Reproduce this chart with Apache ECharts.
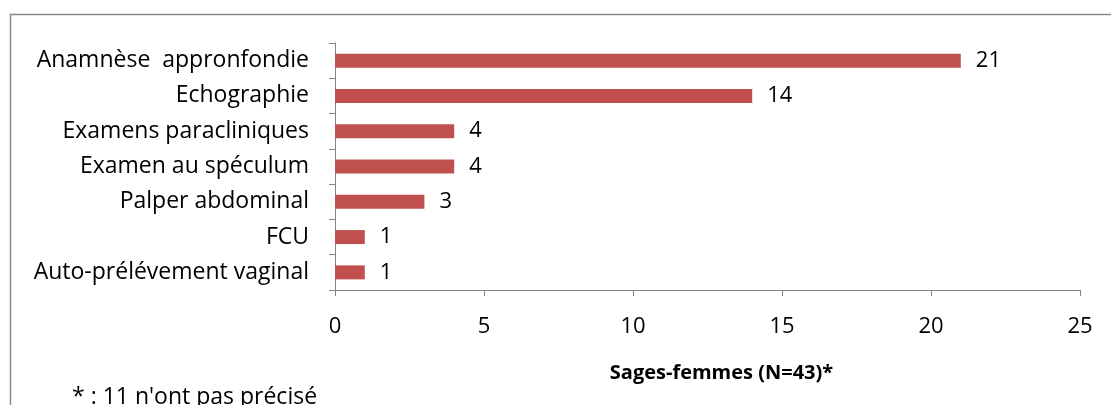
<!DOCTYPE html>
<html>
<head>
<meta charset="utf-8">
<script src="https://cdn.jsdelivr.net/npm/echarts@6/dist/echarts.min.js"></script>
<style>
    html, body {
        margin: 0;
        padding: 0;
        background: #fff;
    }
    #chart {
        width: 1111px;
        height: 405px;
    }
</style>
</head>
<body>
<div id="chart"></div>
<script>
// categories, bottom to top as the axis draws them
var categories = ['Auto-prélévement vaginal', 'FCU', 'Palper abdominal', 'Examen au spéculum',
    'Examens paracliniques', 'Echographie', 'Anamnèse  appronfondie'];
var values = [1, 1, 3, 4, 4, 14, 21];
var xTicks = [0, 5, 10, 15, 20, 25];

var font = '"Open Sans", "DejaVu Sans", sans-serif';
var myChart = echarts.init(document.getElementById('chart'));

var option = {
    animation: false,
    textStyle: { fontFamily: font },
    graphic: [
        {
            // outer frame, cut by the picture's right and bottom edges
            type: 'rect',
            shape: { x: 10.5, y: 14.5, width: 1140, height: 440 },
            style: { fill: 'none', stroke: '#8a8a8a', lineWidth: 1.5 }
        },
        {
            type: 'text',
            left: 72,
            top: 386,
            style: { text: '* : 11 n\'ont pas précisé', font: '23px ' + font, fill: '#000' }
        }
    ],
    grid: {
        left: 335,
        right: 31,
        top: 43,
        bottom: 115
    },
    xAxis: {
        type: 'value',
        min: xTicks[0],
        max: xTicks[xTicks.length - 1],
        interval: 5,
        name: 'Sages-femmes (N=43)*',
        nameLocation: 'middle',
        nameGap: 73,
        nameTextStyle: {
            fontSize: 20, fontWeight: 'bold', color: '#000', fontFamily: font,
            padding: [0, 0, 0, 28]
        },
        axisLine: { show: true, lineStyle: { color: '#868686', width: 1 } },
        axisTick: { show: true, length: 6, lineStyle: { color: '#868686' } },
        axisLabel: { fontSize: 22, color: '#000', margin: 26, fontFamily: font },
        splitLine: { show: false }
    },
    yAxis: {
        type: 'category',
        data: categories,
        axisLine: { show: true, lineStyle: { color: '#868686', width: 1 } },
        axisTick: { show: true, length: 6, lineStyle: { color: '#868686' } },
        axisLabel: { fontSize: 23, color: '#000', margin: 26, fontFamily: font }
    },
    series: [
        {
            type: 'bar',
            data: values,
            barWidth: 14,
            itemStyle: { color: '#c0504d' },
            label: {
                show: true,
                position: 'right',
                distance: 15,
                fontSize: 22,
                color: '#000',
                fontFamily: font
            }
        }
    ]
};
option && myChart.setOption(option);
</script>
</body>
</html>
